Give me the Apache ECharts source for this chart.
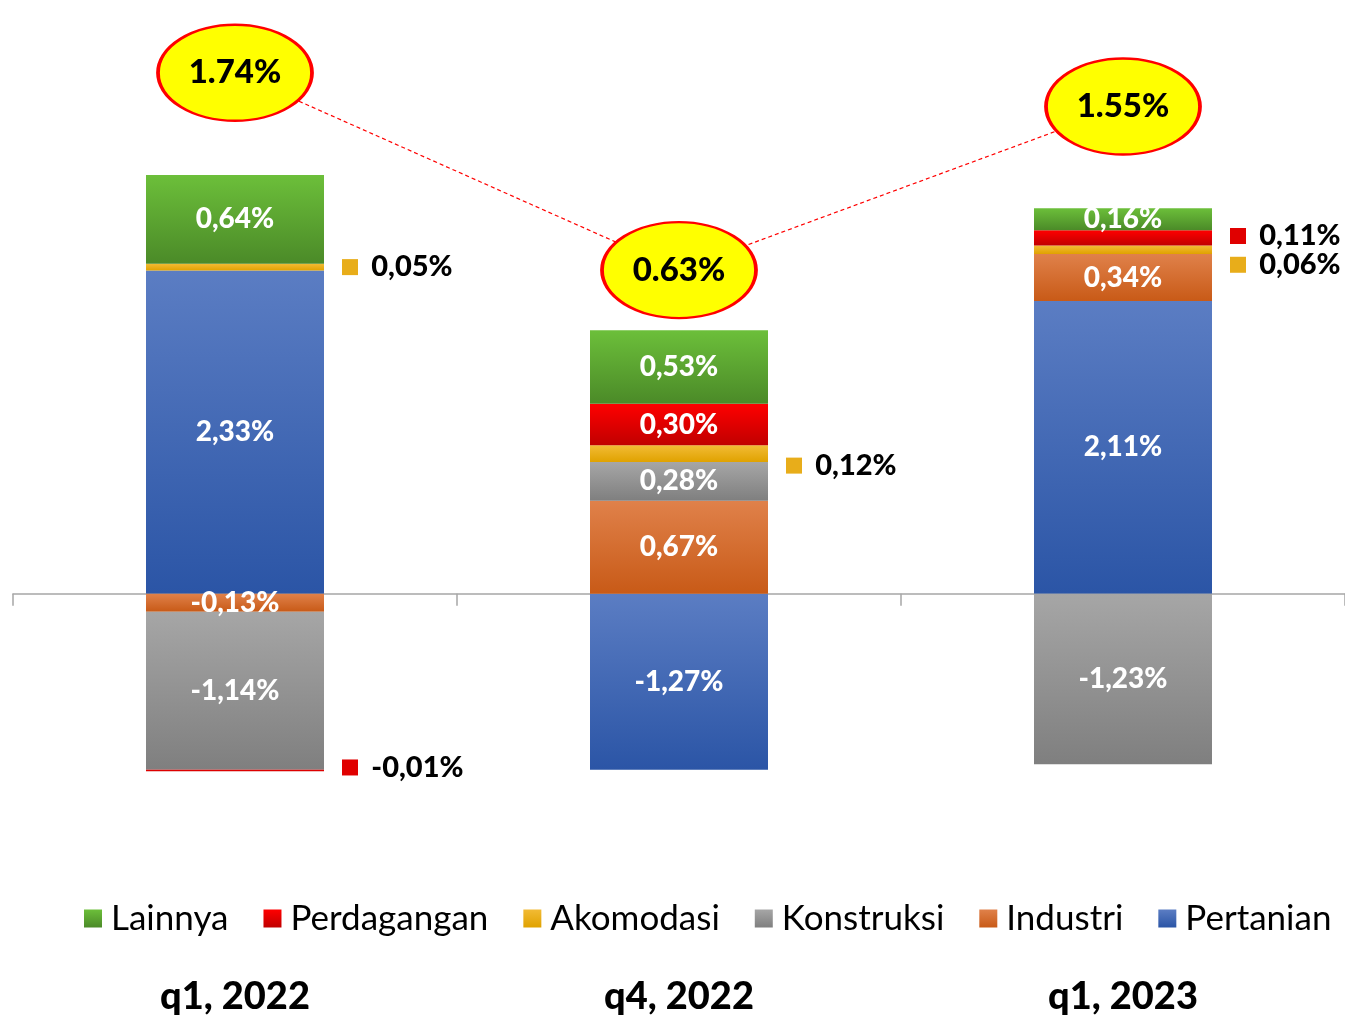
<!DOCTYPE html>
<html>
<head>
<meta charset="utf-8">
<script src="https://cdn.jsdelivr.net/npm/echarts@6/dist/echarts.min.js"></script>
<style>
html,body{margin:0;padding:0;background:#fff;}
#chart{width:1345px;height:1018px;}
</style>
</head>
<body>
<div id="chart"></div>
<script>
const categories = ['q1, 2022', 'q4, 2022', 'q1, 2023'];
const pertanian   = [2.33, -1.27, 2.11];
const industri    = [-0.13, 0.67, 0.34];
const konstruksi  = [-1.14, 0.28, -1.23];
const akomodasi   = [0.05, 0.12, 0.06];
const perdagangan = [-0.01, 0.30, 0.11];
const lainnya     = [0.64, 0.53, 0.16];
const totals      = [1.74, 0.63, 1.55];
const legendOrder = ['Lainnya', 'Perdagangan', 'Akomodasi', 'Konstruksi', 'Industri', 'Pertanian'];

// labels drawn beside the bar (small segments): series name -> {categoryIndex: vertical offset}
const outsideLabels = {
  'Akomodasi': {0: 0, 1: 12, 2: 15},
  'Perdagangan': {0: -3, 2: -2}
};

const FONT = 'Lato, "Open Sans", sans-serif';
const W = 900;

function grad(top, bottom) {
  return new echarts.graphic.LinearGradient(0, 0, 0, 1, [
    {offset: 0, color: top}, {offset: 1, color: bottom}
  ]);
}
const palette = {
  'Pertanian':   ['#5b7dc3', '#2b55a6', '#3d63b0'],
  'Industri':    ['#e0814a', '#c85a17', '#d66d2e'],
  'Konstruksi':  ['#a6a6a6', '#7f7f7f', '#959595'],
  'Akomodasi':   ['#f2bb35', '#e0a200', '#e8ad1a'],
  'Perdagangan': ['#ff0000', '#c00000', '#e00000'],
  'Lainnya':     ['#6cbf3a', '#4b8a28', '#5ca632']
};

function fmt(v) {
  return v.toFixed(2).replace('.', ',') + '%';
}

function makeSeries(name, values) {
  const p = palette[name];
  const outs = outsideLabels[name] || {};
  const data = values.map((v, i) => {
    if (i in outs) {
      return {
        value: v,
        label: {
          show: true,
          position: 'right',
          distance: 18,
          offset: [0, outs[i]],
          formatter: '{sq|}  {t|' + fmt(v) + '}',
          rich: {
            sq: {width: 16, height: 16, backgroundColor: p[2]},
            t: {color: '#000', fontSize: 29, fontWeight: W, fontFamily: FONT}
          }
        }
      };
    }
    return {value: v};
  });
  return {
    name: name,
    type: 'bar',
    stack: 'total',
    barWidth: 178,
    xAxisIndex: 0,
    yAxisIndex: 0,
    itemStyle: {color: grad(p[0], p[1])},
    label: {
      show: true,
      position: 'inside',
      color: '#fff',
      fontSize: 28,
      fontWeight: W,
      fontFamily: FONT,
      formatter: (params) => fmt(params.value)
    },
    data: data
  };
}

const series = [
  makeSeries('Pertanian', pertanian),
  makeSeries('Industri', industri),
  makeSeries('Konstruksi', konstruksi),
  makeSeries('Akomodasi', akomodasi),
  makeSeries('Perdagangan', perdagangan),
  makeSeries('Lainnya', lainnya),
  {
    name: 'Total',
    type: 'line',
    xAxisIndex: 0,
    yAxisIndex: 1,
    z: 10,
    symbol: 'circle',
    symbolSize: [154, 96],
    itemStyle: {color: '#ffff00', borderColor: '#ff0000', borderWidth: 3},
    lineStyle: {color: '#ff0000', type: [4, 3], width: 1.2},
    label: {
      show: true,
      position: 'inside',
      color: '#000',
      fontSize: 33,
      fontWeight: W,
      fontFamily: FONT,
      formatter: (params) => params.value.toFixed(2) + '%'
    },
    emphasis: {disabled: true},
    data: totals
  }
];

const chart = echarts.init(document.getElementById('chart'));
chart.setOption({
  animation: false,
  backgroundColor: '#fff',
  grid: {left: 13, right: 0, top: 39, bottom: 147},
  legend: {
    data: legendOrder,
    top: 896,
    left: 79,
    itemWidth: 18,
    itemHeight: 18,
    itemGap: 35,
    icon: 'rect',
    textStyle: {fontSize: 35, fontFamily: FONT, color: '#000', padding: [0, 0, 0, 4]}
  },
  xAxis: [
    {
      type: 'category',
      data: categories,
      axisLine: {onZero: true, lineStyle: {color: '#a6a6a6', width: 1.5}},
      axisTick: {show: true, length: 12, lineStyle: {color: '#a6a6a6', width: 1.5}},
      axisLabel: {show: false},
      splitLine: {show: false}
    },
    {
      type: 'category',
      data: categories,
      position: 'bottom',
      offset: 98,
      axisLine: {show: false},
      axisTick: {show: false},
      axisLabel: {show: true, margin: 9, fontSize: 38, fontWeight: W, fontFamily: FONT, color: '#000'}
    }
  ],
  yAxis: [
    {type: 'value', min: -2, max: 4, show: false, splitLine: {show: false}},
    {type: 'value', min: -2.75, max: 1.93, show: false, splitLine: {show: false}}
  ],
  series: series
});
</script>
</body>
</html>
